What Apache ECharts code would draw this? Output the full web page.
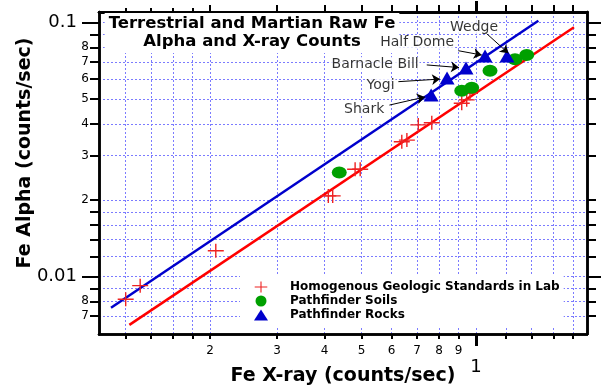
<!DOCTYPE html>
<html>
<head>
<meta charset="utf-8">
<script src="https://cdn.jsdelivr.net/npm/echarts@6/dist/echarts.min.js"></script>
<style>
html,body{margin:0;padding:0;background:#fff;}
#chart{width:602px;height:388px;}
</style>
</head>
<body>
<div id="chart"></div>
<script>
// ---- Data ----
var stdX = [0.120, 0.131, 0.207, 0.409, 0.420, 0.481, 0.496, 0.638, 0.658, 0.705, 0.765, 0.917, 0.945, 0.964];
var stdY = [0.00815, 0.00922, 0.01266, 0.0208, 0.0208, 0.0265, 0.0265, 0.0340, 0.0345, 0.0396, 0.0404, 0.0482, 0.0497, 0.0527];

var soilX = [0.437, 0.917, 0.974, 1.088, 1.266, 1.359];
var soilY = [0.0257, 0.0540, 0.0555, 0.0647, 0.0718, 0.0746];

var rockNames = ['Shark', 'Yogi', 'Barnacle Bill', 'Half Dome', 'Wedge'];
var rockX = [0.762, 0.839, 0.941, 1.056, 1.206];
var rockY = [0.0519, 0.0606, 0.0663, 0.0739, 0.0739];

var blueFitX = [0.1098, 1.458];
var blueFitY = [0.00755, 0.1018];
var redFitX = [0.1227, 1.809];
var redFitY = [0.00646, 0.0959];

// annotation label anchors and arrows (data coordinates)
var labelX = [0.508, 0.561, 0.543, 0.700, 0.988];
var labelY = [0.0457, 0.0568, 0.0688, 0.0836, 0.0962];
var arrowFromX = [0.592, 0.625, 0.742, 0.898, 1.041];
var arrowFromY = [0.0474, 0.0586, 0.0682, 0.0776, 0.0936];
var arrowToX = [0.734, 0.804, 0.902, 1.035, 1.216];
var arrowToY = [0.0510, 0.0600, 0.0666, 0.0746, 0.0758];

// axis ticks / labels
var xMinorTicks = [0.12, 0.14, 0.16, 0.18, 0.2, 0.3, 0.4, 0.5, 0.6, 0.7, 0.8, 0.9, 1, 1.2, 1.4, 1.6, 1.8];
var xTopShort = [0.12, 0.14, 0.16, 0.18];
var xTopMid = [0.2, 0.3, 0.4, 0.5, 0.6, 0.7, 0.8, 0.9, 1.2, 1.4, 1.6, 1.8];
var xMajorTicks = [1];
var xLabels = [0.2, 0.3, 0.4, 0.5, 0.6, 0.7, 0.8, 0.9, 1];
var yMinorTicks = [0.007, 0.008, 0.009, 0.01, 0.012, 0.014, 0.016, 0.018, 0.02, 0.03, 0.04, 0.05, 0.06, 0.07, 0.08, 0.09, 0.1];
var yMajorTicks = [0.01, 0.1];
var yLabels = [0.007, 0.008, 0.01, 0.02, 0.03, 0.04, 0.05, 0.06, 0.07, 0.08, 0.1];

var xMin = 0.1021, xMax = 1.957, yMin = 0.005949, yMax = 0.1102;

var FONT = 'DejaVu Sans';
function zip(a, b) { return a.map(function (v, i) { return [v, b[i]]; }); }

function xAxisDef(pos, ticks, len, width, extra) {
  var a = {
    type: 'log', logBase: 10, min: xMin, max: xMax, position: pos, gridIndex: 0,
    axisLine: { show: true, onZero: false, lineStyle: { color: '#000', width: 2.5 } },
    axisTick: { show: true, inside: false, length: len, customValues: ticks, lineStyle: { color: '#000', width: width } },
    axisLabel: { show: false },
    splitLine: { show: false },
    minorTick: { show: false }
  };
  return Object.assign(a, extra || {});
}
function yAxisDef(pos, ticks, len, width, extra) {
  var a = {
    type: 'log', logBase: 10, min: yMin, max: yMax, position: pos, gridIndex: 0,
    axisLine: { show: true, onZero: false, lineStyle: { color: '#000', width: 2.5 } },
    axisTick: { show: true, inside: false, length: len, customValues: ticks, lineStyle: { color: '#000', width: width } },
    axisLabel: { show: false },
    splitLine: { show: false },
    minorTick: { show: false }
  };
  return Object.assign(a, extra || {});
}

var gridLine = { show: true, lineStyle: { color: '#7b7bff', width: 1, type: [2, 2] } };

var option = {
  animation: false,
  backgroundColor: '#fff',
  grid: { left: 99, right: 15, top: 12, bottom: 54, containLabel: false, outerBoundsMode: 'none' },
  title: {
    text: 'Terrestrial and Martian Raw Fe\nAlpha and X-ray Counts',
    left: 248, top: 13, textAlign: 'center',
    padding: [2, 4, 2, 4],
    backgroundColor: '#fff',
    textStyle: { fontFamily: FONT, fontWeight: 'bold', fontSize: 16.5, lineHeight: 18, color: '#000' }
  },
  legend: {
    data: ['Homogenous Geologic Standards in Lab', 'Pathfinder Soils', 'Pathfinder Rocks'],
    orient: 'vertical', left: 240, top: 275,
    padding: [5, 4, 5, 14],
    itemWidth: 14, itemHeight: 11, itemGap: 0,
    backgroundColor: '#fff',
    selectedMode: false,
    textStyle: { fontFamily: FONT, fontWeight: 'bold', fontSize: 12, lineHeight: 14, color: '#000', padding: [0, 0, 0, 17] }
  },
  xAxis: [
    xAxisDef('bottom', xMinorTicks, 5, 2, {
      name: 'Fe X-ray (counts/sec)', nameLocation: 'middle', nameGap: 33, nameMoveOverlap: false,
      nameTextStyle: { fontFamily: FONT, fontWeight: 'bold', fontSize: 19, color: '#000' },
      axisLabel: {
        show: true, customValues: xLabels, margin: 11,
        fontFamily: FONT, fontSize: 12, color: '#000',
        formatter: function (v) {
          if (Math.abs(v - 1) < 1e-9) return '{big|1}';
          return String(Math.round(v * 10));
        },
        rich: { big: { fontFamily: FONT, fontSize: 18, color: '#000', padding: [13, 0, 0, 0] } }
      },
      splitLine: gridLine
    }),
    xAxisDef('bottom', xMajorTicks, 12, 3),
    xAxisDef('top', xTopShort, 4, 2),
    xAxisDef('top', xTopMid, 7, 2),
    xAxisDef('top', xMajorTicks, 11, 3)
  ],
  yAxis: [
    yAxisDef('left', yMinorTicks, 9, 2, {
      name: 'Fe Alpha (counts/sec)', nameLocation: 'middle', nameGap: 64, nameRotate: 90, nameMoveOverlap: false,
      nameTextStyle: { fontFamily: FONT, fontWeight: 'bold', fontSize: 19, color: '#000', padding: [0, 0, 0, 40] },
      axisLabel: {
        show: true, customValues: yLabels, margin: 10,
        fontFamily: FONT, fontSize: 12, color: '#000',
        formatter: function (v) {
          if (Math.abs(v - 0.1) < 1e-9) return '{big|0.1}';
          if (Math.abs(v - 0.01) < 1e-9) return '{big|0.01}';
          if (v < 0.01) return String(Math.round(v * 1000));
          return String(Math.round(v * 100));
        },
        rich: { big: { fontFamily: FONT, fontSize: 18, color: '#000', padding: [0, 12, 0, 0] } }
      },
      splitLine: gridLine
    }),
    yAxisDef('left', yMajorTicks, 17, 2),
    yAxisDef('right', yMinorTicks, 9, 2),
    yAxisDef('right', yMajorTicks, 14, 2)
  ],
  series: [
    {
      name: 'blueFit', type: 'line', xAxisIndex: 0, yAxisIndex: 0,
      data: zip(blueFitX, blueFitY), showSymbol: false, symbol: 'none',
      lineStyle: { color: '#0000cc', width: 2.5 }, silent: true, z: 2
    },
    {
      name: 'redFit', type: 'line', xAxisIndex: 0, yAxisIndex: 0,
      data: zip(redFitX, redFitY), showSymbol: false, symbol: 'none',
      lineStyle: { color: '#ff0000', width: 2.5 }, silent: true, z: 2
    },
    {
      name: 'Homogenous Geologic Standards in Lab', type: 'scatter', xAxisIndex: 0, yAxisIndex: 0,
      data: zip(stdX, stdY),
      symbol: 'path://M0,6.3H16V7.7H0Z M7.3,0H8.7V14H7.3Z',
      symbolSize: [16, 14],
      itemStyle: { color: '#ee2222', opacity: 1 }, z: 3
    },
    {
      name: 'Pathfinder Soils', type: 'scatter', xAxisIndex: 0, yAxisIndex: 0,
      data: zip(soilX, soilY),
      symbol: 'path://M0,1A1,1,0,1,1,2,1A1,1,0,1,1,0,1Z',
      symbolSize: [15, 12],
      itemStyle: { color: '#00a000', opacity: 1 }, z: 3
    },
    {
      name: 'Pathfinder Rocks', type: 'scatter', xAxisIndex: 0, yAxisIndex: 0,
      data: zip(rockX, rockY).map(function (p, i) { return { name: rockNames[i], value: p }; }),
      symbol: 'triangle', symbolSize: [15, 13],
      itemStyle: { color: '#0000cc', opacity: 1 }, z: 4
    },
    {
      name: 'arrows', type: 'lines', coordinateSystem: 'cartesian2d', xAxisIndex: 0, yAxisIndex: 0,
      data: rockNames.map(function (n, i) {
        return { coords: [[arrowFromX[i], arrowFromY[i]], [arrowToX[i], arrowToY[i]]] };
      }),
      symbol: ['none', 'arrow'], symbolSize: 8,
      lineStyle: { color: '#000', width: 1, opacity: 1 },
      silent: true, z: 5
    },
    {
      name: 'labels', type: 'scatter', xAxisIndex: 0, yAxisIndex: 0,
      data: zip(labelX, labelY).map(function (p, i) { return { name: rockNames[i], value: p }; }),
      symbolSize: 1, itemStyle: { color: 'rgba(0,0,0,0)' },
      label: {
        show: true, position: 'inside', formatter: '{b}',
        fontFamily: FONT, fontSize: 14, color: '#000',
        backgroundColor: '#fff', padding: [0, 1, 0, 1]
      },
      silent: true, z: 6
    }
  ]
};

var chart = echarts.init(document.getElementById('chart'), null, { renderer: 'canvas' });
chart.setOption(option);
</script>
</body>
</html>
